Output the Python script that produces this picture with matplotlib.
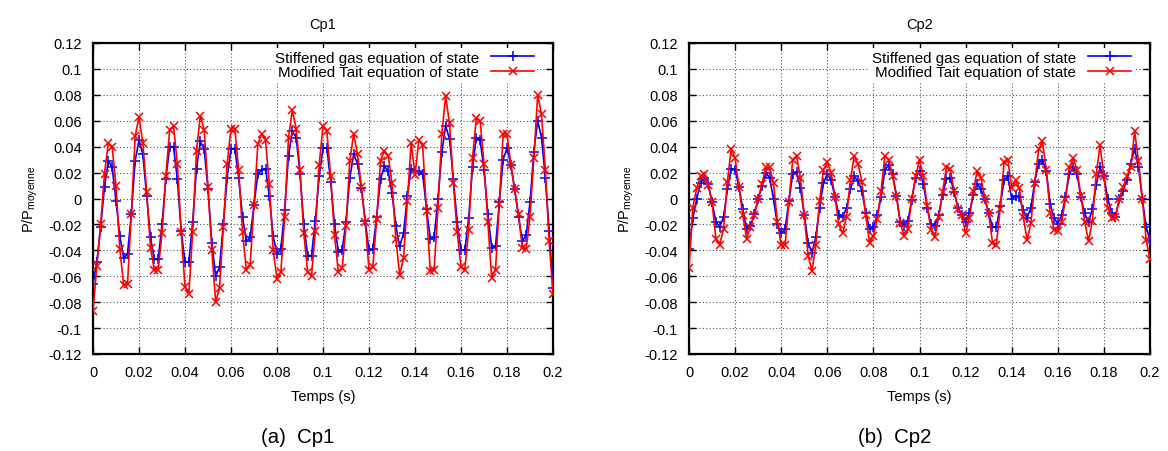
import numpy as np
import matplotlib
matplotlib.use("Agg")
import matplotlib.pyplot as plt
from matplotlib.ticker import FuncFormatter, MultipleLocator

plt.rcParams['font.family'] = ['Liberation Sans', 'DejaVu Sans']
plt.rcParams['mathtext.default'] = 'regular'

# ---------------- data ----------------
time_s = np.linspace(0.0, 0.2, 121)

cp1_stiffened = [
    -0.066, -0.049, -0.022, 0.009, 0.029, 0.024, -0.002, -0.029, -0.046, -0.043,
    -0.012, 0.029, 0.045, 0.034, 0.002, -0.030, -0.047, -0.047, -0.020, 0.015,
    0.040, 0.040, 0.015, -0.025, -0.049, -0.049, -0.018, 0.023, 0.044, 0.038,
    0.007, -0.034, -0.060, -0.053, -0.020, 0.016, 0.0385, 0.0385, 0.016, -0.014,
    -0.033, -0.030, -0.005, 0.019, 0.022, 0.023, 0.002, -0.029, -0.043, -0.039,
    -0.0085, 0.033, 0.052, 0.047, 0.019, -0.020, -0.044, -0.044, -0.017, 0.017,
    0.039, 0.039, 0.013, -0.020, -0.041, -0.040, -0.018, 0.016, 0.034, 0.027,
    0.008, -0.017, -0.040, -0.039, -0.014, 0.015, 0.025, 0.021, 0.004, -0.021,
    -0.037, -0.027, 0.002, 0.023, 0.021, 0.021, 0.019, -0.008, -0.031, -0.030,
    0.000, 0.036, 0.056, 0.046, 0.015, -0.018, -0.040, -0.040, -0.015, 0.024,
    0.047, 0.045, 0.022, -0.012, -0.038, -0.037, -0.003, 0.030, 0.039, 0.026,
    0.007, -0.014, -0.033, -0.028, -0.003, 0.036, 0.060, 0.047, 0.016, -0.025,
    -0.069,
]
cp1_tait = [
    -0.087, -0.052, -0.020, 0.019, 0.043, 0.040, 0.0095, -0.039, -0.067, -0.066,
    -0.012, 0.048, 0.063, 0.043, 0.005, -0.038, -0.055, -0.055, -0.027, 0.017,
    0.053, 0.056, 0.027, -0.026, -0.068, -0.074, -0.026, 0.037, 0.064, 0.053,
    0.0087, -0.040, -0.080, -0.069, -0.022, 0.027, 0.054, 0.054, 0.022, -0.026,
    -0.055, -0.051, -0.005, 0.042, 0.050, 0.045, 0.011, -0.040, -0.062, -0.057,
    -0.014, 0.047, 0.068, 0.054, 0.022, -0.027, -0.057, -0.060, -0.025, 0.026,
    0.056, 0.052, 0.017, -0.028, -0.057, -0.054, -0.021, 0.029, 0.050, 0.034,
    0.009, -0.018, -0.055, -0.053, -0.016, 0.029, 0.037, 0.033, 0.012, -0.031,
    -0.059, -0.046, -0.002, 0.043, 0.018, 0.045, 0.041, -0.010, -0.056, -0.055,
    -0.007, 0.050, 0.079, 0.058, 0.012, -0.026, -0.053, -0.055, -0.024, 0.031,
    0.062, 0.060, 0.027, -0.018, -0.061, -0.055, -0.004, 0.050, 0.050, 0.026,
    0.007, -0.012, -0.038, -0.039, -0.014, 0.031, 0.080, 0.065, 0.022, -0.033,
    -0.074,
]
cp2_stiffened = [
    -0.039, -0.015, -0.0005, 0.012, 0.016, 0.011, -0.003, -0.018, -0.022, -0.014,
    0.007, 0.023, 0.022, 0.009, -0.008, -0.0235, -0.021, -0.012, -0.0005, 0.0097,
    0.020, 0.016, -0.0005, -0.020, -0.027, -0.0235, -0.002, 0.019, 0.0205, 0.008,
    -0.0125, -0.034, -0.042, -0.030, -0.007, 0.012, 0.019, 0.014, 0.001, -0.0125,
    -0.0145, -0.0074, 0.007, 0.017, 0.0135, 0.006, -0.011, -0.0235, -0.022, -0.013,
    0.001, 0.022, 0.026, 0.019, 0.002, -0.018, -0.021, -0.017, -0.001, 0.016,
    0.021, 0.0115, -0.007, -0.020, -0.021, -0.013, 0.003, 0.015, 0.016, 0.005,
    -0.007, -0.0125, -0.018, -0.011, 0.003, 0.0115, 0.007, -0.0005, -0.011, -0.022,
    -0.022, -0.006, 0.014, 0.017, 0.000, 0.002, 0.001, -0.009, -0.015, -0.007,
    0.013, 0.027, 0.030, 0.021, -0.004, -0.015, -0.0195, -0.013, 0.001, 0.019,
    0.024, 0.019, 0.001, -0.0115, -0.018, -0.008, 0.0105, 0.024, 0.017, 0.000,
    -0.011, -0.014, -0.0005, 0.006, 0.014, 0.027, 0.0385, 0.024, 0.000, -0.022,
    -0.032,
]
cp2_tait = [
    -0.054, -0.007, 0.008, 0.017, 0.019, 0.0105, -0.003, -0.031, -0.0355, -0.0235,
    0.013, 0.0385, 0.031, 0.009, -0.013, -0.031, -0.022, -0.013, -0.0005, 0.0115,
    0.024, 0.024, 0.012, -0.018, -0.036, -0.036, -0.003, 0.030, 0.033, 0.0156,
    -0.013, -0.044, -0.056, -0.036, -0.002, 0.022, 0.028, 0.020, 0.001, -0.020,
    -0.027, -0.014, 0.014, 0.033, 0.027, 0.013, -0.013, -0.034, -0.029, -0.016,
    0.006, 0.033, 0.030, 0.017, 0.002, -0.019, -0.029, -0.0235, 0.000, 0.017,
    0.030, 0.017, -0.006, -0.024, -0.030, -0.014, 0.005, 0.024, 0.023, 0.006,
    -0.008, -0.0125, -0.027, -0.015, 0.006, 0.021, 0.016, 0.000, -0.0115, -0.034,
    -0.0355, -0.008, 0.028, 0.030, 0.008, 0.014, 0.008, -0.014, -0.032, -0.019,
    0.012, 0.038, 0.044, 0.022, -0.011, -0.024, -0.025, -0.018, -0.0005, 0.024,
    0.031, 0.022, 0.002, -0.018, -0.033, -0.017, 0.019, 0.041, 0.017, -0.007,
    -0.015, -0.0145, -0.0005, 0.009, 0.017, 0.024, 0.052, 0.029, 0.000, -0.032,
    -0.047,
]

panel_titles = ["Cp1", "Cp2"]
sub_captions = ["(a)  Cp1", "(b)  Cp2"]
series_labels = ["Stiffened gas equation of state", "Modified Tait equation of state"]
x_label = "Temps (s)"
y_label = r"P/P$_{moyenne}$"

# ---------------- figure ----------------
W, H = 1168, 452
fig = plt.figure(figsize=(W / 100, H / 100), dpi=100)

ax_px = [(93, 44, 553, 355), (689, 44, 1150, 355)]
caption_x = [298, 895]
panels = [(cp1_stiffened, cp1_tait), (cp2_stiffened, cp2_tait)]

fmt = FuncFormatter(lambda v, p: ("%g" % round(v, 4)) if abs(v) > 1e-9 else "0")

for i, ((x0, y0, x1, y1), (s_vals, t_vals)) in enumerate(zip(ax_px, panels)):
    ax = fig.add_axes([x0 / W, 1 - y1 / H, (x1 - x0) / W, (y1 - y0) / H])
    ax.plot(time_s, s_vals, color="#0000ff", lw=1.2, marker="+", ms=7, mew=1.1,
            label=series_labels[0], zorder=3)
    ax.plot(time_s, t_vals, color="#ff0000", lw=1.2, marker="x", ms=6, mew=1.1,
            label=series_labels[1], zorder=3)
    ax.set_xlim(0, 0.2)
    ax.set_ylim(-0.12, 0.12)
    ax.xaxis.set_major_locator(MultipleLocator(0.02))
    ax.yaxis.set_major_locator(MultipleLocator(0.02))
    ax.xaxis.set_major_formatter(fmt)
    ax.yaxis.set_major_formatter(fmt)
    ax.tick_params(direction="in", top=True, right=True, length=5, width=1,
                   labelsize=10.5, pad=8)
    ax.grid(True, color="#555555", linestyle=(0, (1, 2)), linewidth=0.8, zorder=0)
    for sp in ax.spines.values():
        sp.set_linewidth(1.6)
    ax.set_title(panel_titles[i], fontsize=10.5, pad=11)
    ax.set_xlabel(x_label, fontsize=10.5, labelpad=7)
    ax.set_ylabel(y_label, fontsize=10.5, labelpad=6)
    leg = ax.legend(loc="upper right", bbox_to_anchor=(1 - 11 / (x1 - x0), 1.0),
                    markerfirst=False, frameon=True,
                    fontsize=10.9, handlelength=2.85, handletextpad=0.8,
                    borderaxespad=0.3, borderpad=0.2, labelspacing=0.05,
                    fancybox=False)
    leg.get_frame().set_facecolor("white")
    leg.get_frame().set_edgecolor("none")
    leg.get_frame().set_alpha(1.0)
    leg.set_zorder(5)
    fig.text(caption_x[i] / W, 1 - 438 / H, sub_captions[i], ha="center",
             va="center", fontsize=14.7)

fig.savefig("out.png", dpi=100)
